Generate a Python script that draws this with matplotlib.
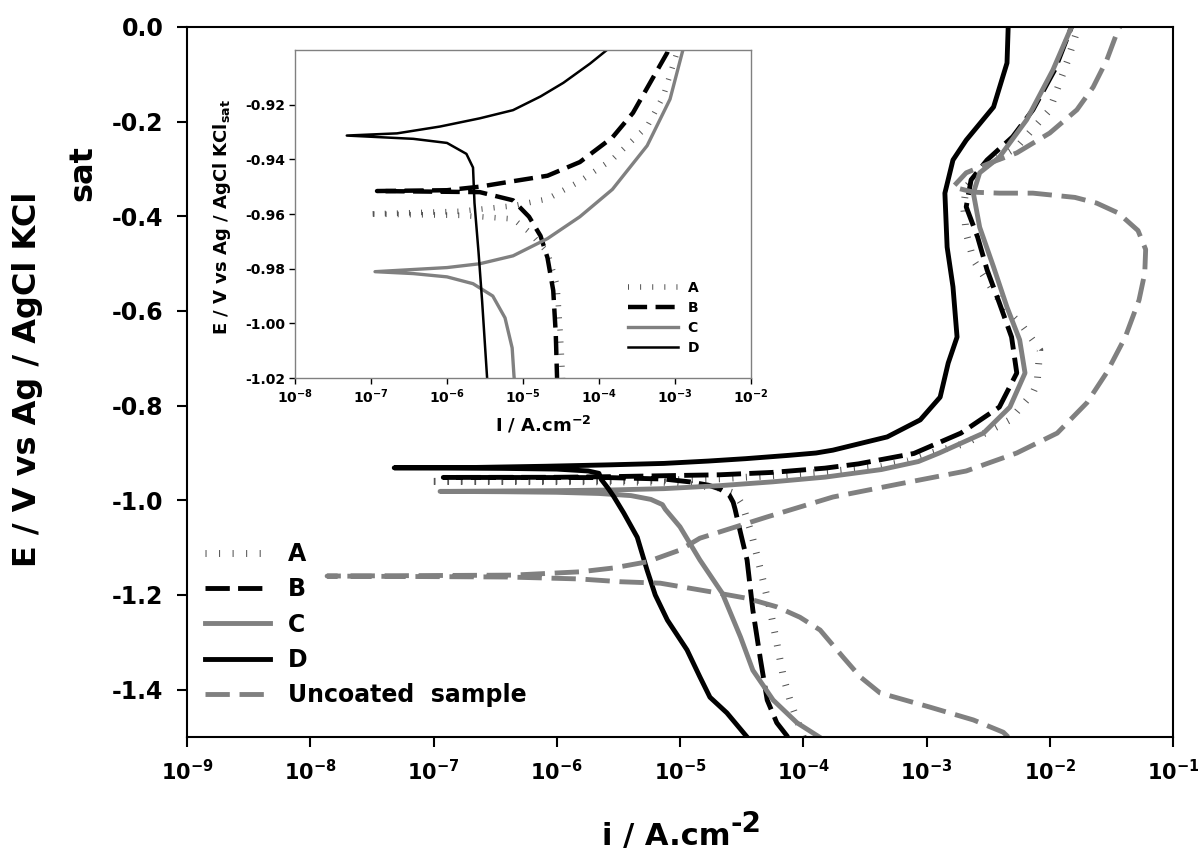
"""Curvas de polarización (Tafel) de recubrimientos A-D y muestra sin recubrir."""

import numpy as np
import matplotlib
matplotlib.use("Agg")
import matplotlib.pyplot as plt
from matplotlib.ticker import FixedLocator, FixedFormatter, NullLocator

plt.rcParams['font.family'] = ['DejaVu Sans']
plt.rcParams['font.weight'] = 'bold'
plt.rcParams['axes.unicode_minus'] = False
plt.rcParams['mathtext.fontset'] = 'dejavusans'

# --- Datos (E en V, i en A/cm2) ---
E_A = [-1.500, -1.464, -1.422, -1.373, -1.301, -1.232, -1.147, -1.070, -1.019, -1.004,
       -0.986, -0.974, -0.9665, -0.9618, -0.9605, -0.960, -0.959, -0.957, -0.9545, -0.948,
       -0.940, -0.928, -0.917, -0.901, -0.879, -0.830, -0.773, -0.752, -0.682, -0.634,
       -0.590, -0.492, -0.435, -0.380, -0.338, -0.296, -0.254, -0.175, -0.070, 0.000]
i_A = [1.0e-4, 8.9e-5, 7.8e-5, 6.9e-5, 6.1e-5, 5.4e-5, 4.5e-5, 3.8e-5, 3.3e-5, 3.1e-5,
       2.8e-5, 2.1e-5, 1.2e-5, 7.4e-6, 1.5e-6, 9.0e-8, 1.5e-6, 7.4e-6, 2.1e-5, 5.6e-5,
       1.5e-4, 4.3e-4, 7.0e-4, 1.06e-3, 2.1e-3, 4.75e-3, 7.3e-3, 7.9e-3, 8.3e-3, 6.1e-3,
       4.2e-3, 2.4e-3, 2.1e-3, 2.0e-3, 2.1e-3, 2.9e-3, 5.4e-3, 1.0e-2, 1.4e-2, 1.7e-2]

E_B = [-1.500, -1.470, -1.422, -1.337, -1.232, -1.126, -1.069, -1.019, -1.004, -0.988,
       -0.976, -0.968, -0.961, -0.955, -0.952, -0.9516, -0.9513, -0.950, -0.948, -0.946,
       -0.941, -0.932, -0.923, -0.912, -0.901, -0.858, -0.803, -0.731, -0.655, -0.583,
       -0.513, -0.444, -0.380, -0.323, -0.281, -0.232, -0.175, -0.090, 0.000]
i_B = [7.5e-5, 6.1e-5, 5.1e-5, 4.5e-5, 3.9e-5, 3.5e-5, 3.1e-5, 2.8e-5, 2.7e-5, 2.5e-5,
       2.1e-5, 1.7e-5, 1.2e-5, 7.4e-6, 2.7e-6, 1.2e-7, 1.0e-6, 2.7e-6, 7.4e-6, 2.1e-5,
       5.6e-5, 1.5e-4, 2.8e-4, 4.7e-4, 7.9e-4, 1.9e-3, 3.9e-3, 5.4e-3, 4.9e-3, 3.9e-3,
       3.1e-3, 2.6e-3, 2.1e-3, 2.3e-3, 3.1e-3, 5.0e-3, 7.3e-3, 1.1e-2, 1.5e-2]

E_C = [-1.500, -1.470, -1.422, -1.359, -1.289, -1.196, -1.126, -1.056, -1.019, -1.009,
       -0.998, -0.990, -0.9855, -0.983, -0.9818, -0.9811, -0.9796, -0.9782, -0.9753, -0.969,
       -0.961, -0.951, -0.935, -0.918, -0.900, -0.858, -0.803, -0.731, -0.661, -0.592,
       -0.507, -0.423, -0.351, -0.308, -0.275, -0.196, -0.091, 0.000]
i_C = [1.35e-4, 8.9e-5, 5.7e-5, 3.9e-5, 3.1e-5, 2.2e-5, 1.45e-5, 1.0e-5, 7.6e-6, 7.2e-6,
       5.8e-6, 4.0e-6, 2.2e-6, 1.0e-6, 3.6e-7, 1.13e-7, 1.0e-6, 2.7e-6, 7.4e-6, 2.1e-5,
       5.6e-5, 1.5e-4, 4.3e-4, 8.6e-4, 1.27e-3, 2.9e-3, 4.75e-3, 6.3e-3, 5.7e-3, 4.5e-3,
       3.5e-3, 2.7e-3, 2.4e-3, 2.7e-3, 3.9e-3, 6.5e-3, 1.06e-2, 1.5e-2]

E_D = [-1.500, -1.449, -1.416, -1.373, -1.316, -1.253, -1.200, -1.147, -1.078, -1.027,
       -0.992, -0.974, -0.956, -0.943, -0.938, -0.934, -0.9325, -0.9313, -0.9305, -0.928,
       -0.925, -0.922, -0.917, -0.912, -0.905, -0.900, -0.894, -0.866, -0.830, -0.782,
       -0.710, -0.655, -0.549, -0.465, -0.351, -0.281, -0.239, -0.169, -0.076, 0.000]
i_D = [3.5e-5, 2.4e-5, 1.75e-5, 1.45e-5, 1.14e-5, 7.9e-6, 6.3e-6, 5.4e-6, 4.5e-6, 3.5e-6,
       2.9e-6, 2.6e-6, 2.3e-6, 2.2e-6, 1.8e-6, 1.0e-6, 3.6e-7, 4.8e-8, 2.2e-7, 8.1e-7,
       2.7e-6, 7.4e-6, 1.7e-5, 3.4e-5, 7.6e-5, 1.27e-4, 1.74e-4, 4.8e-4, 8.9e-4, 1.29e-3,
       1.5e-3, 1.77e-3, 1.64e-3, 1.47e-3, 1.41e-3, 1.64e-3, 2.1e-3, 3.5e-3, 4.5e-3, 4.6e-3]

E_U = [-1.500, -1.490, -1.464, -1.437, -1.407, -1.373, -1.331, -1.274, -1.247, -1.225,
       -1.207, -1.194, -1.175, -1.172, -1.166, -1.162, -1.160, -1.158, -1.151, -1.143,
       -1.130, -1.105, -1.080, -1.035, -0.993, -0.965, -0.938, -0.900, -0.858, -0.794,
       -0.730, -0.655, -0.577, -0.520, -0.470, -0.430, -0.393, -0.372, -0.360, -0.351,
       -0.351, -0.349, -0.338, -0.308, -0.287, -0.266, -0.224, -0.175, -0.127, -0.070,
       -0.013, 0.000]
i_U = [4.6e-3, 4.2e-3, 2.4e-3, 1.07e-3, 4.2e-4, 2.9e-4, 2.1e-4, 1.37e-4, 9.4e-5, 6.1e-5,
       3.5e-5, 1.85e-5, 6.9e-6, 3.3e-6, 1.5e-6, 4.0e-7, 1.37e-8, 4.4e-7, 1.55e-6, 2.86e-6,
       5.4e-6, 1.0e-5, 1.45e-5, 5.1e-5, 1.74e-4, 6.1e-4, 2.1e-3, 5.4e-3, 1.15e-2, 2.0e-2,
       2.9e-2, 4.1e-2, 5.3e-2, 5.9e-2, 6.0e-2, 5.2e-2, 3.6e-2, 2.4e-2, 1.6e-2, 7.3e-3,
       3.9e-3, 2.4e-3, 1.64e-3, 2.1e-3, 3.3e-3, 5.4e-3, 1.0e-2, 1.66e-2, 2.25e-2, 2.9e-2,
       3.5e-2, 3.7e-2]

labels = ['A', 'B', 'C', 'D', 'Uncoated  sample']
x_decades = [-9, -8, -7, -6, -5, -4, -3, -2, -1]
y_ticks = [-1.4, -1.2, -1.0, -0.8, -0.6, -0.4, -0.2, 0.0]
inset_decades = [-8, -7, -6, -5, -4, -3, -2]
inset_y_ticks = [-1.02, -1.00, -0.98, -0.96, -0.94, -0.92]

GRAY = '#808080'

fig = plt.figure(figsize=(11.98, 8.5), dpi=100)

# --- Gráfica principal ---
ax = fig.add_axes([187 / 1198, 113 / 850, 986 / 1198, 710 / 850])
ax.plot(i_A, E_A, color='#555555', lw=5, dashes=(0.15, 1.8), dash_capstyle='butt', label=labels[0])
ax.plot(i_B, E_B, color='black', lw=3.5, dashes=(5, 1.7), label=labels[1])
ax.plot(i_C, E_C, color=GRAY, lw=3.5, label=labels[2])
ax.plot(i_D, E_D, color='black', lw=3.5, label=labels[3])
ax.plot(i_U, E_U, color=GRAY, lw=3.5, dashes=(5, 2), label=labels[4])

ax.set_xscale('log')
ax.set_xlim(1e-9, 1e-1)
ax.set_ylim(-1.5, 0.0)
ax.xaxis.set_major_locator(FixedLocator([10.0 ** k for k in x_decades]))
ax.xaxis.set_major_formatter(FixedFormatter([r'$\mathbf{10^{%d}}$' % k for k in x_decades]))
ax.xaxis.set_minor_locator(NullLocator())
ax.set_yticks(y_ticks)
ax.set_yticklabels([f'{v:.1f}' for v in y_ticks])
ax.tick_params(axis='both', direction='out', length=7, width=1.5)
ax.tick_params(axis='x', labelsize=15, pad=9)
ax.tick_params(axis='y', labelsize=17, pad=10)
for s in ax.spines.values():
    s.set_linewidth(1.5)

# Etiqueta del eje x con exponente grande, como en el original
xl = fig.text(602 / 1198, 1 - 845 / 850, 'i / A.cm', ha='left', va='baseline',
              fontsize=22, fontweight='bold')
ax.annotate('-2', xy=(1.0, 0.92), xycoords=xl, ha='left', va='center',
            fontsize=20, fontweight='bold')

fig.text(28 / 1198, 1 - 379 / 850, 'E / V vs Ag / AgCl KCl', rotation=90,
         ha='center', va='center', fontsize=23, fontweight='bold')
fig.text(83 / 1198, 1 - 173 / 850, 'sat', rotation=90,
         ha='center', va='center', fontsize=23, fontweight='bold')

ax.legend(loc='lower left', bbox_to_anchor=(0.018, 0.042), frameon=False,
          prop={'size': 17, 'weight': 'bold'}, handlelength=2.75, handletextpad=0.76,
          labelspacing=0.48, borderpad=0, borderaxespad=0)

# --- Recuadro (zoom cerca del potencial de corrosión) ---
ax_in = fig.add_axes([295 / 1198, 472 / 850, 456 / 1198, 328 / 850])
ax_in.plot(i_A, E_A, color='#555555', lw=4, dashes=(0.18, 2.0), dash_capstyle='butt', label=labels[0])
ax_in.plot(i_B, E_B, color='black', lw=3.2, dashes=(4.3, 1.9), label=labels[1])
ax_in.plot(i_C, E_C, color=GRAY, lw=2.4, label=labels[2])
ax_in.plot(i_D, E_D, color='black', lw=1.8, label=labels[3])

ax_in.set_xscale('log')
ax_in.set_xlim(1e-8, 1e-2)
ax_in.set_ylim(-1.02, -0.90)
ax_in.xaxis.set_major_locator(FixedLocator([10.0 ** k for k in inset_decades]))
ax_in.xaxis.set_major_formatter(FixedFormatter([r'$\mathbf{10^{%d}}$' % k for k in inset_decades]))
ax_in.xaxis.set_minor_locator(NullLocator())
ax_in.set_yticks(inset_y_ticks)
ax_in.set_yticklabels([f'{v:.2f}' for v in inset_y_ticks])
ax_in.tick_params(axis='both', direction='out', length=4, width=1, labelsize=10, pad=3)
for s in ax_in.spines.values():
    s.set_linewidth(1)
    s.set_color(GRAY)

ax_in.set_xlabel(r'I / A.cm$^{\mathbf{-2}}$', fontsize=13, fontweight='bold')
ax_in.xaxis.set_label_coords(0.544, -0.11)
ax_in.set_ylabel(r'E / V vs Ag / AgCl KCl$_{\mathbf{sat}}$', fontsize=13, fontweight='bold')
ax_in.yaxis.set_label_coords(-0.135, 0.49)

ax_in.legend(loc='lower left', bbox_to_anchor=(0.73, 0.07), frameon=False,
             prop={'size': 10, 'weight': 'bold'}, handlelength=3.6, handletextpad=0.7,
             labelspacing=0.44, borderpad=0, borderaxespad=0)

fig.savefig('out.png', dpi=100)
